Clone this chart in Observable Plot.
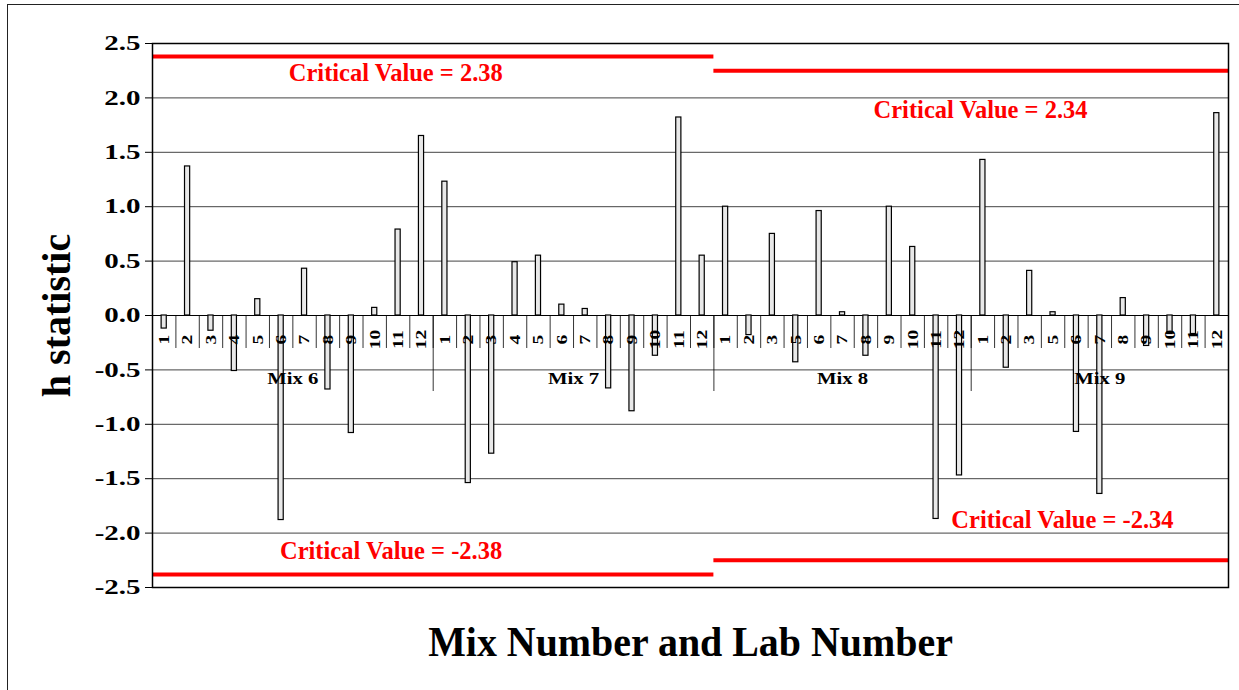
<!DOCTYPE html>
<html><head><meta charset="utf-8">
<script src="https://cdn.jsdelivr.net/npm/d3@7"></script>
<script src="https://cdn.jsdelivr.net/npm/@observablehq/plot@0.6"></script>
<style>
body{margin:0;background:#fff;}
#wrap{position:relative;width:1239px;height:690px;overflow:hidden;}
#border{position:absolute;left:7px;top:4px;width:1260px;height:720px;border:1.5px solid #222;box-sizing:border-box;pointer-events:none;}
</style></head><body><div id="wrap"><div id="border"></div></div>
<script>
// ---- data ----
const mixes = ["Mix 6", "Mix 7", "Mix 8", "Mix 9"];
const labs6 = [1, 2, 3, 4, 5, 6, 7, 8, 9, 10, 11, 12];
const labs7 = [1, 2, 3, 4, 5, 6, 7, 8, 9, 10, 11, 12];
const labs8 = [1, 2, 3, 5, 6, 7, 8, 9, 10, 11, 12];
const labs9 = [1, 2, 3, 5, 6, 7, 8, 9, 10, 11, 12];
const h6 = [-0.12, 1.37, -0.14, -0.51, 0.15, -1.88, 0.43, -0.68, -1.08, 0.07, 0.79, 1.65];
const h7 = [1.23, -1.54, -1.27, 0.49, 0.55, 0.10, 0.06, -0.67, -0.88, -0.37, 1.82, 0.55];
const h8 = [1.00, -0.18, 0.75, -0.43, 0.96, 0.03, -0.37, 1.00, 0.63, -1.87, -1.47];
const h9 = [1.43, -0.48, 0.41, 0.03, -1.07, -1.64, 0.16, -0.28, -0.17, -0.17, 1.86];
const critLabels = ["Critical Value = 2.38", "Critical Value = 2.34", "Critical Value = -2.38", "Critical Value = -2.34"];
const critLevelsLeft = [2.38, -2.38];   // as drawn for Mix 6-7
const critLevelsRight = [2.25, -2.25];  // as drawn for Mix 8-9
const yTicks = [-2.5, -2.0, -1.5, -1.0, -0.5, 0.0, 0.5, 1.0, 1.5, 2.0, 2.5];
const xTitle = "Mix Number and Lab Number";
const yTitle = "h statistic";

// ---- build table ----
const labSets = [labs6, labs7, labs8, labs9];
const hSets = [h6, h7, h8, h9];
const rows = [];
const groups = [];
let idx = 0;
mixes.forEach((m, g) => {
  const start = idx;
  labSets[g].forEach((lab, k) => { rows.push({mix: m, lab: String(lab), h: hSets[g][k], i: idx}); idx++; });
  groups.push({mix: m, start, end: idx});
});
const N = idx;
const innerSeps = d3.range(1, N);
const mixSeps = groups.slice(0, -1).map(g => g.end);
const half = groups[1].end;

const font = '"Liberation Serif","Times New Roman",serif';
const red = "#ff0000";

const chart = Plot.plot({
  width: 1239, height: 690,
  marginLeft: 152, marginRight: 11, marginTop: 43, marginBottom: 103,
  x: {domain: [0, N], axis: null},
  y: {domain: [-2.5, 2.5], axis: null},
  style: {fontFamily: font, fontWeight: "bold", background: "transparent", color: "#000"},
  marks: [
    Plot.gridY(yTicks, {stroke: "#444", strokeOpacity: 1, strokeWidth: 1}),
    Plot.ruleY([0], {stroke: "#000", strokeWidth: 1}),
    Plot.ruleX(innerSeps, {x: d => d, y1: 0, y2: 0, insetBottom: -33, stroke: "#000", strokeWidth: 0.8}),
    Plot.ruleX(mixSeps, {x: d => d, y1: 0, y2: 0, insetBottom: -76, stroke: "#000", strokeWidth: 0.8}),
    Plot.rectY(rows, {x1: d => d.i + 0.39, x2: d => d.i + 0.61, y1: 0, y2: "h", fill: "#e8e8e8", stroke: "#000", strokeWidth: 1.2}),
    Plot.text(rows, {x: d => d.i + 0.5, y: 0, text: "lab", rotate: -90, dy: 24, fontSize: 15}),
    Plot.text(groups, {x: d => (d.start + d.end) / 2, y: 0, text: "mix", dy: 63, fontSize: 17}),
    Plot.ruleY(critLevelsLeft, {y: d => d, x1: 0, x2: half, stroke: red, strokeWidth: 4}),
    Plot.ruleY(critLevelsRight, {y: d => d, x1: half, x2: N, stroke: red, strokeWidth: 4}),
    Plot.text([critLabels[0]], {text: d => d, x: 10.4, y: critLevelsLeft[0], dy: 17, fill: red, fontSize: 24.5}),
    Plot.text([critLabels[1]], {text: d => d, x: 35.4, y: critLevelsRight[0], dy: 39, fill: red, fontSize: 24.5}),
    Plot.text([critLabels[2]], {text: d => d, x: 10.2, y: critLevelsLeft[1], dy: -23, fill: red, fontSize: 24.5}),
    Plot.text([critLabels[3]], {text: d => d, x: 38.9, y: critLevelsRight[1], dy: -40, fill: red, fontSize: 24.5}),
    Plot.frame({stroke: "#000", strokeWidth: 1.5}),
    Plot.axisY({ticks: yTicks, tickFormat: d => d.toFixed(1), tickSize: 7, tickPadding: 5, fontSize: 21, label: null}),
    Plot.text([yTitle], {text: d => d, frameAnchor: "left", textAnchor: "middle", lineAnchor: "middle", dx: -95, rotate: -90, fontSize: 40}),
    Plot.text([xTitle], {text: d => d, frameAnchor: "bottom", textAnchor: "middle", lineAnchor: "middle", dy: 55, fontSize: 42})
  ]
});
document.getElementById("wrap").prepend(chart);

// widen/narrow glyphs along the text direction (textLength keeps positions untouched)
function stretchText(el, s) {
  const len = el.getComputedTextLength();
  if (len > 0) {
    el.setAttribute("textLength", (len * s).toFixed(2));
    el.setAttribute("lengthAdjust", "spacingAndGlyphs");
  }
}
const labSet = new Set(rows.map(r => r.lab));
d3.select(chart).selectAll("text").each(function () {
  const s = this.textContent;
  if (/^-?\d\.\d$/.test(s)) stretchText(this, 1.38);
  else if (labSet.has(s)) stretchText(this, 1.3);
  else if (mixes.includes(s)) stretchText(this, 1.22);
  else if (s === xTitle) stretchText(this, 0.95);
});
</script>
</body></html>
